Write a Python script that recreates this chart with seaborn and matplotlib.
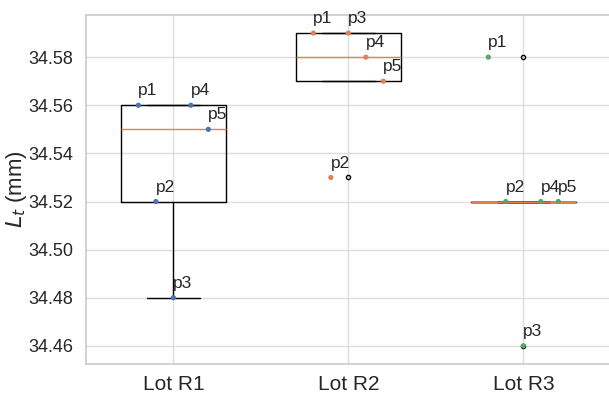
import numpy as np
import pandas as pd
import seaborn as sns
import matplotlib.pyplot as plt

lots = ['Lot R1', 'Lot R2', 'Lot R3']
points = ['p1', 'p2', 'p3', 'p4', 'p5']
lt_r1 = [34.56, 34.52, 34.48, 34.56, 34.55]
lt_r2 = [34.59, 34.53, 34.59, 34.58, 34.57]
lt_r3 = [34.58, 34.52, 34.46, 34.52, 34.52]
point_colors = ['#4C72B0', '#DD8452', '#55A868']

sns.set_theme(style='whitegrid')
plt.rcParams['font.family'] = ['Liberation Sans', 'DejaVu Sans']

rows = []
for lot, vals in zip(lots, [lt_r1, lt_r2, lt_r3]):
    for p, v in zip(points, vals):
        rows.append((lot, p, v))
df = pd.DataFrame(rows, columns=['lot', 'point', 'Lt'])

# spread the five points across the box
offsets = np.linspace(-0.2, 0.2, len(points))
df['xpos'] = [lots.index(l) + offsets[points.index(p)] for l, p in zip(df['lot'], df['point'])]

fig = plt.figure(figsize=(6.09, 3.96), dpi=100)
ax = fig.add_axes([0.141, 0.081, 0.862, 0.881])

sns.boxplot(data=df, x='lot', y='Lt', order=lots, width=0.6, fill=False,
            color='black', linewidth=1,
            medianprops={'color': '#DD8452', 'linewidth': 1},
            flierprops={'marker': 'o', 'markersize': 3, 'markeredgecolor': 'black',
                        'markerfacecolor': 'none', 'markeredgewidth': 1},
            ax=ax)

sns.scatterplot(data=df, x='xpos', y='Lt', hue='lot', palette=point_colors,
                s=14, linewidth=0, legend=False, ax=ax, zorder=5)

for _, r in df.iterrows():
    ax.annotate(r['point'], (r['xpos'], r['Lt']), xytext=(0, 5),
                textcoords='offset points', ha='left', va='bottom', fontsize=12.5,
                color='#262626')

ax.set_xlim(-0.5, 2.5)
ax.set_ylim(34.4525, 34.5975)
ax.set_yticks([34.46, 34.48, 34.50, 34.52, 34.54, 34.56, 34.58])
ax.set_yticklabels([f'{t:.2f}' for t in ax.get_yticks()])
ax.set_xlabel('')
ax.set_ylabel('$L_t$ (mm)', fontsize=16)
ax.yaxis.set_label_coords(-0.108, 0.5)
ax.tick_params(axis='y', labelsize=13, pad=3)
ax.tick_params(axis='x', labelsize=15, pad=2)
ax.grid(True, color='#dddddd', linewidth=1)

fig.savefig('out.png', dpi=100)
